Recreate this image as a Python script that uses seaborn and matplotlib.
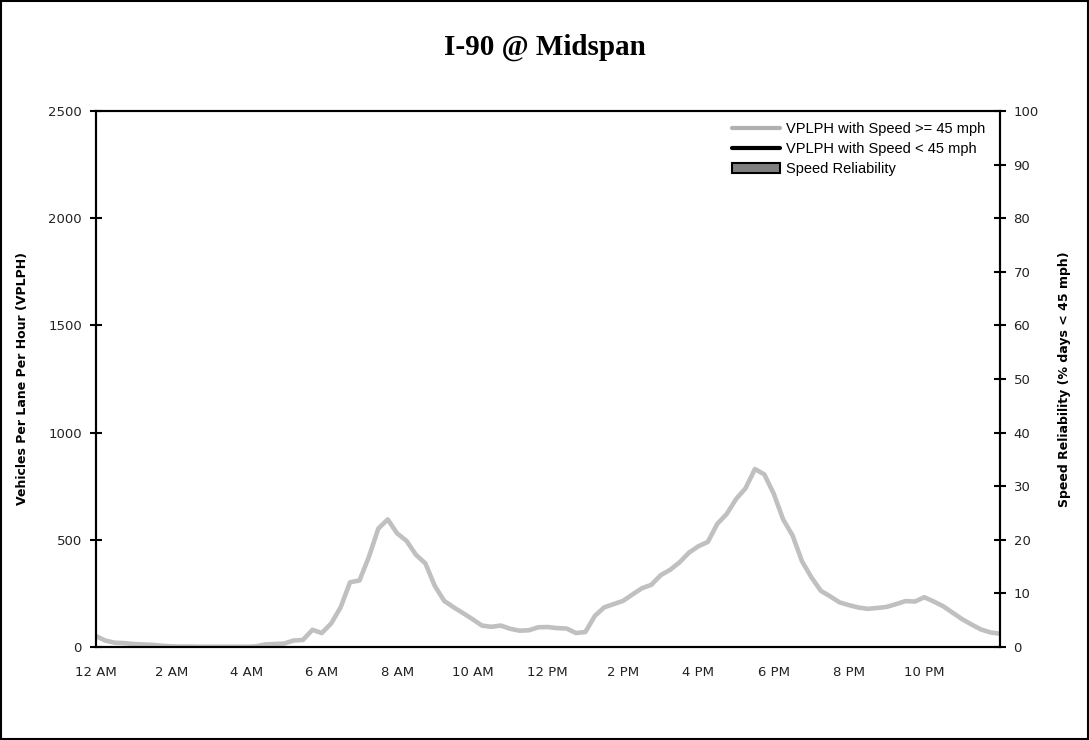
import numpy as np
import pandas as pd
import matplotlib
matplotlib.use("Agg")
import matplotlib.pyplot as plt
from matplotlib.lines import Line2D
from matplotlib.patches import Patch, Rectangle
import seaborn as sns

# 15-minute volumes (vehicles per lane per hour), midnight to midnight
vplph = [51, 30, 20, 18, 14, 12, 10, 6, 3, 2, 2, 1, 1, 1, 1, 1,
         1, 3, 12, 14, 16, 30, 33, 80, 65, 110, 185, 302, 310, 420, 552, 595,
         530, 495, 430, 390, 285, 215, 185, 158, 130, 100, 94, 100, 85, 76, 78, 92,
         93, 88, 86, 65, 70, 145, 185, 200, 215, 245, 274, 290, 335, 360, 395, 440,
         470, 490, 574, 620, 690, 740, 830, 805, 715, 595, 520, 400, 325, 262, 236, 208,
         195, 184, 178, 182, 187, 200, 214, 212, 232, 212, 190, 160, 130, 105, 82, 68,
         62]
hours = np.arange(len(vplph)) / 4

tick_hours = list(range(25))
tick_labels = ["12 AM", "", "2 AM", "", "4 AM", "", "6 AM", "", "8 AM", "", "10 AM", "",
               "12 PM", "", "2 PM", "", "4 PM", "", "6 PM", "", "8 PM", "", "10 PM", "", ""]

df = pd.DataFrame({"hour": hours, "vplph": vplph})

sns.set_style("white")
plt.rcParams["font.family"] = ["DejaVu Sans"]
plt.rcParams["text.color"] = "black"
plt.rcParams["axes.labelcolor"] = "black"

fig = plt.figure(figsize=(10.89, 7.4), dpi=100)
ax = fig.add_axes([0.088, 0.1257, 0.83, 0.7243])

sns.lineplot(data=df, x="hour", y="vplph", ax=ax, color="#c0c0c0", lw=3.3)

ax.set_xlim(0, 24)
ax.set_ylim(0, 2500)
ax.set_xticks(tick_hours)
ax.set_xticklabels(tick_labels)
ax.set_yticks(range(0, 2501, 500))
ax.set_xlabel("")
ax.set_ylabel("Vehicles Per Lane Per Hour (VPLPH)", fontsize=9, fontweight="bold", labelpad=14)
ax.tick_params(direction="inout", length=8, width=1.5, labelsize=9.5, colors="black",
               labelcolor="#222222", pad=6)
ax.tick_params(axis="x", pad=10)

ax2 = ax.twinx()
ax2.set_ylim(0, 100)
ax2.set_yticks(range(0, 101, 10))
ax2.set_ylabel("Speed Reliability (% days < 45 mph)", fontsize=9, fontweight="bold", labelpad=14)
ax2.tick_params(direction="inout", length=8, width=1.5, labelsize=9.5, colors="black",
                labelcolor="#222222", pad=6)

for a in (ax, ax2):
    for s in a.spines.values():
        s.set_visible(True)
        s.set_color("black")
        s.set_linewidth(1.5)

handles = [Line2D([], [], color="#b0b0b0", lw=3),
           Line2D([], [], color="black", lw=3),
           Patch(facecolor="#808080", edgecolor="black", lw=1.5)]
labels = ["VPLPH with Speed >= 45 mph", "VPLPH with Speed < 45 mph", "Speed Reliability"]
ax2.legend(handles, labels, loc="upper right", bbox_to_anchor=(0.995, 0.998), frameon=False,
           prop={"family": "Liberation Sans", "size": 10.5}, handlelength=3.3,
           handletextpad=0.4, labelspacing=0.4, borderaxespad=0.3)

fig.text(0.5, 0.936, "I-90 @ Midspan", ha="center", va="center",
         family="Liberation Serif", fontweight="bold", fontsize=21)

fig.patches.append(Rectangle((0.001, 0.001), 0.998, 0.997, transform=fig.transFigure,
                             fill=False, edgecolor="black", lw=1.5))

fig.savefig("out.png", dpi=100)
